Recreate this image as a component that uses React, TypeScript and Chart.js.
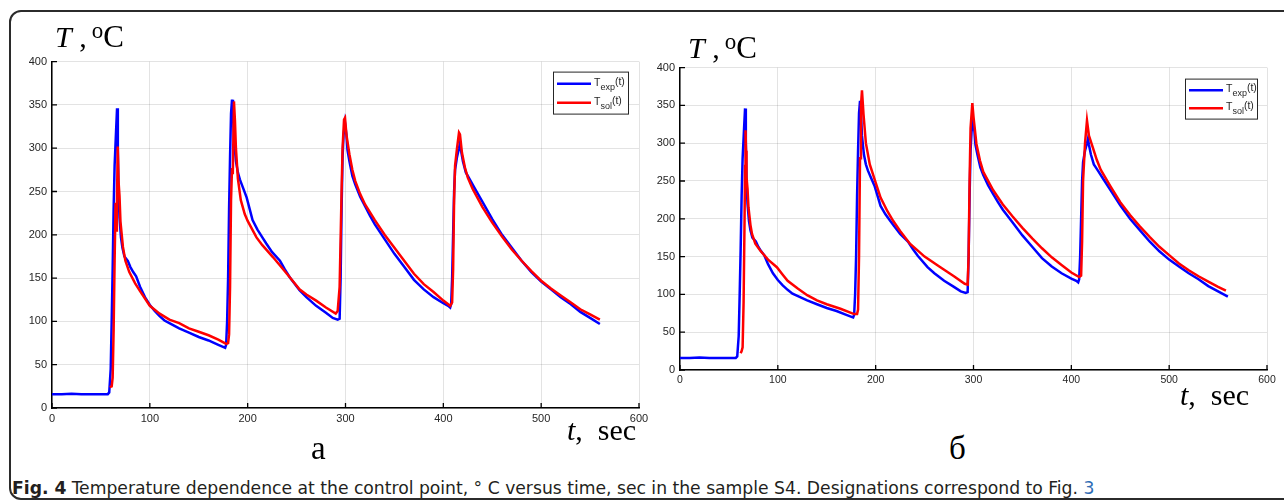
import React, { useEffect, useLayoutEffect, useRef } from "react";
import { Chart, registerables } from "chart.js";

Chart.register(...registerables);

// ---------- data ----------
const xTicks = [0, 100, 200, 300, 400, 500, 600];
const yTicks = [0, 50, 100, 150, 200, 250, 300, 350, 400];

// experimental temperature (same in both panels)
const tExp = [0, 10, 20, 30, 40, 50, 57, 58.5, 60, 61, 62, 63, 64, 65.5, 66.5, 67.3, 68, 69, 70.5, 72, 74, 77.5, 80, 83, 86, 90, 95, 100, 105, 110, 115, 120, 130, 140, 150, 160, 170, 176, 177, 178, 179, 180, 181, 182, 183, 184, 185, 186, 188, 190, 192, 195, 199, 202, 205, 210, 215, 219, 225, 233, 238, 243, 253, 260, 270, 280, 287, 292, 294, 295, 296, 297, 298, 299.5, 301, 302, 304, 307, 310, 315, 320, 325, 330, 340, 350, 360, 370, 380, 390, 400, 405, 407, 408, 409, 410, 411, 412, 414, 416, 417, 418, 420, 423, 425, 428, 432, 440, 450, 460, 470, 480, 490, 500, 510, 520, 530, 540, 550, 560];
const TExp = [16, 16, 16.5, 16, 16, 16, 16, 18, 45, 100, 160, 230, 280, 320, 346, 300, 250, 220, 197, 185, 175, 170, 163, 157, 152, 140, 128, 119, 112, 106, 101, 98, 92, 87, 82, 78, 73, 70, 69.5, 73, 100, 150, 230, 290, 340, 356, 340, 310, 285, 272, 264, 255, 243, 230, 217, 206, 197, 190, 180, 170, 160, 151, 136, 128, 118, 110, 104, 102, 103, 150, 230, 290, 315, 329, 315, 298, 285, 268, 258, 244, 233, 222, 212, 195, 178, 163, 148, 137, 128, 121, 118, 116, 120, 150, 200, 250, 275, 290, 300, 306, 298, 285, 272, 268, 262, 254, 238, 218, 200, 185, 170, 157, 146, 137, 128, 120, 111, 104, 97];

// solution, panel a
const tSolA = [59, 61, 62, 63, 64, 65, 65.8, 66.3, 67.2, 68, 69, 70, 72.5, 75, 79, 85, 90, 100, 110, 120, 130, 140, 150, 160, 170, 178, 180, 181, 182, 183, 184, 184.8, 186, 187, 188, 190, 193, 197, 200, 209, 215, 226, 235, 243, 253, 260, 270, 280, 290, 292, 294, 296, 297, 298.5, 299.5, 301, 304, 307, 310, 315, 320, 330, 340, 350, 360, 370, 380, 390, 400, 407, 409, 410, 411, 412, 414, 416, 417, 419, 422, 425, 430, 440, 450, 460, 470, 480, 490, 500, 510, 520, 530, 540, 550, 560];
const TSolA = [24, 25, 35, 90, 170, 237, 205, 230, 302, 262, 245, 215, 186, 170, 157, 144, 135, 118, 109, 102, 98, 92, 88, 84, 79, 74, 75, 85, 140, 240, 277, 270, 354, 332, 300, 265, 240, 224, 216, 197, 188, 174, 162, 151, 137, 131, 124, 116, 109, 112, 140, 250, 300, 333, 335, 315, 293, 275, 262, 247, 235, 217, 200, 185, 170, 155, 143, 134, 124, 118, 122, 160, 240, 280, 300, 318, 316, 295, 278, 266, 253, 232, 214, 198, 183, 170, 158, 147, 138, 130, 122, 114, 108, 102];

// solution, panel б
const tSolB = [62, 63, 64, 65, 66, 66.5, 67, 67.5, 68, 69, 70, 72, 73.6, 77, 82, 90, 99, 105, 110, 120, 130, 140, 150, 164, 178, 181, 182, 183, 184, 185, 186, 187, 187.6, 190, 194, 200, 205, 212, 218, 225, 235, 250, 265, 280, 291, 294, 295, 296, 297, 298.8, 300, 303, 306.6, 310, 320, 330, 340, 350, 360, 370, 380, 390, 400, 408, 410, 411, 412, 414, 416, 418, 422, 426, 430, 440, 450, 460, 470, 480, 490, 500, 510, 520, 530, 540, 550, 558];
const TSolB = [22, 25, 30, 90, 200, 270, 317, 290, 255, 240, 215, 192, 180, 167, 158, 146, 136, 126, 118, 108, 99, 92, 87, 81, 74, 74, 80, 150, 280, 350, 370, 350, 338, 300, 272, 248, 228, 210, 197, 184, 167, 150, 137, 124, 114, 113, 150, 250, 320, 353, 335, 299, 277, 262, 238, 219, 203, 188, 174, 161, 149, 139, 129, 123, 125, 170, 250, 300, 330, 310, 294, 278, 265, 243, 222, 205, 190, 176, 163, 152, 141, 132, 124, 117, 110, 105];

const pts = (xs: number[], ys: number[]) => xs.map((x, i) => ({ x, y: ys[i] }));

const TICK_COLOR = "#262626";
const GRID_COLOR = "rgba(0,0,0,0.11)";

type ChartProps = {
  left: number;
  top: number;
  width: number;
  height: number;
  padTop: number;
  padRight: number;
  yWidth: number;
  solT: number[];
  solV: number[];
  legend: { dx: number; dy: number; w: number; h: number };
  xFont: number;
};

function TempChart(p: ChartProps) {
  const ref = useRef<HTMLCanvasElement>(null);
  useEffect(() => {
    const canvas = ref.current!;
    const innerTicks = {
      id: "innerTicks",
      beforeDatasetsDraw(chart: any) {
        const { ctx, chartArea, scales } = chart;
        ctx.save();
        ctx.strokeStyle = "#000";
        ctx.lineWidth = 1.3;
        ctx.beginPath();
        xTicks.forEach((v) => {
          const px = scales.x.getPixelForValue(v);
          ctx.moveTo(px, chartArea.bottom);
          ctx.lineTo(px, chartArea.bottom - 5);
        });
        yTicks.forEach((v) => {
          const py = scales.y.getPixelForValue(v);
          ctx.moveTo(chartArea.left, py);
          ctx.lineTo(chartArea.left + 5, py);
        });
        ctx.stroke();
        ctx.restore();
      },
    };
    const legendBox = {
      id: "legendBox",
      afterDatasetsDraw(chart: any) {
        const { ctx, chartArea } = chart;
        const { dx, dy, w, h } = p.legend;
        const bx = chartArea.right - dx - w;
        const by = chartArea.top + dy;
        ctx.save();
        ctx.fillStyle = "#fff";
        ctx.fillRect(bx, by, w, h);
        ctx.strokeStyle = "#262626";
        ctx.lineWidth = 1;
        ctx.strokeRect(bx + 0.5, by + 0.5, w, h);
        const rows = [
          { c: "#0000ff", sub: "exp", y: by + h * 0.29 },
          { c: "#ff0000", sub: "sol", y: by + h * 0.74 },
        ];
        rows.forEach((r) => {
          ctx.strokeStyle = r.c;
          ctx.lineWidth = 2.5;
          ctx.beginPath();
          ctx.moveTo(bx + 4, r.y);
          ctx.lineTo(bx + 38, r.y);
          ctx.stroke();
          ctx.fillStyle = TICK_COLOR;
          ctx.textBaseline = "alphabetic";
          ctx.font = "10.5px 'Liberation Sans', Arial, sans-serif";
          let x = bx + 41;
          ctx.fillText("T", x, r.y + 2);
          x += ctx.measureText("T").width;
          ctx.font = "9px 'Liberation Sans', Arial, sans-serif";
          ctx.fillText(r.sub, x, r.y + 6);
          x += ctx.measureText(r.sub).width;
          ctx.font = "10.5px 'Liberation Sans', Arial, sans-serif";
          ctx.fillText("(t)", x, r.y + 1);
        });
        ctx.restore();
      },
    };
    const chart = new Chart(canvas, {
      type: "line",
      data: {
        datasets: [
          {
            label: "Texp(t)",
            data: pts(tExp, TExp),
            borderColor: "#0000ff",
            backgroundColor: "#0000ff",
            borderWidth: 2.5,
            pointRadius: 0,
            tension: 0,
            order: 2,
          },
          {
            label: "Tsol(t)",
            data: pts(p.solT, p.solV),
            borderColor: "#ff0000",
            backgroundColor: "#ff0000",
            borderWidth: 2.5,
            pointRadius: 0,
            tension: 0,
            order: 1,
          },
        ],
      },
      options: {
        animation: false,
        responsive: false,
        maintainAspectRatio: false,
        layout: { padding: { top: p.padTop, right: p.padRight, left: 0, bottom: 0 } },
        plugins: { legend: { display: false }, tooltip: { enabled: false } },
        scales: {
          x: {
            type: "linear",
            min: 0,
            max: 600,
            afterBuildTicks: (s: any) => {
              s.ticks = xTicks.map((v) => ({ value: v }));
            },
            afterFit: (s: any) => {
              s.height = 24;
            },
            ticks: {
              color: TICK_COLOR,
              font: { family: "'Liberation Sans', Arial, sans-serif", size: p.xFont },
              padding: 4,
              maxRotation: 0,
              autoSkip: false,
              callback: (v: any) => String(v),
            },
            grid: { color: GRID_COLOR, drawTicks: false, lineWidth: 1 },
            border: { display: true, color: "#000", width: 1.5 },
          },
          y: {
            type: "linear",
            min: 0,
            max: 400,
            afterBuildTicks: (s: any) => {
              s.ticks = yTicks.map((v) => ({ value: v }));
            },
            afterFit: (s: any) => {
              s.width = p.yWidth;
            },
            ticks: {
              color: TICK_COLOR,
              font: { family: "'Liberation Sans', Arial, sans-serif", size: 11 },
              padding: 5,
              autoSkip: false,
              callback: (v: any) => String(v),
            },
            grid: { color: GRID_COLOR, drawTicks: false, lineWidth: 1 },
            border: { display: true, color: "#000", width: 1.5 },
          },
        },
      },
      plugins: [innerTicks, legendBox],
    } as any);
    return () => chart.destroy();
  }, []);
  return (
    <canvas
      ref={ref}
      width={p.width}
      height={p.height}
      style={{ position: "absolute", left: p.left, top: p.top, width: p.width, height: p.height }}
    />
  );
}

const serif = "'Liberation Serif', 'Times New Roman', serif";

function TTitle({ left, top }: { left: number; top: number }) {
  return (
    <div style={{ position: "absolute", left, top, fontFamily: serif, fontSize: 30, lineHeight: "30px", whiteSpace: "pre", color: "#000" }}>
      <span style={{ fontStyle: "italic" }}>T</span>
      <span> ,</span>
      <span style={{ fontSize: 23, position: "relative", top: -9, marginLeft: 5 }}>o</span>
      <span style={{ fontSize: 31 }}>C</span>
    </div>
  );
}

function tTitle(left: number, top: number) {
  return (
    <div style={{ position: "absolute", left, top, fontFamily: serif, fontSize: 30, lineHeight: "30px", whiteSpace: "pre", color: "#000" }}>
      <span style={{ fontStyle: "italic" }}>t</span>
      <span>,  sec</span>
    </div>
  );
}

function Caption() {
  const ref = useRef<HTMLDivElement>(null);
  useLayoutEffect(() => {
    const el = ref.current!;
    const w = el.scrollWidth;
    if (w > 0) el.style.transform = `scaleX(${1082 / w})`;
  }, []);
  return (
    <div
      ref={ref}
      style={{
        position: "absolute",
        left: 12,
        top: 479,
        fontFamily: "'Liberation Sans Narrow', 'DejaVu Sans Condensed', 'Open Sans', sans-serif",
        fontSize: 17,
        lineHeight: "19px",
        whiteSpace: "pre",
        color: "#231f20",
        transformOrigin: "0 0",
      }}
    >
      <b>Fig. 4</b> Temperature dependence at the control point, ° C versus time, sec in the sample S4. Designations correspond to Fig.{" "}
      <span style={{ color: "#2f6db5" }}>3</span>
    </div>
  );
}

export default function App() {
  return (
    <div style={{ position: "fixed", left: 0, top: 0, width: 1284, height: 504, background: "#fff", overflow: "hidden" }}>
      <div
        style={{
          position: "absolute",
          left: 9,
          top: 10,
          width: 1290,
          height: 490,
          border: "2px solid #2b2b2b",
          borderRadius: 12,
          boxSizing: "border-box",
        }}
      />
      <TempChart
        left={0}
        top={50}
        width={660}
        height={382}
        padTop={10}
        padRight={21}
        yWidth={52}
        solT={tSolA}
        solV={TSolA}
        legend={{ dx: 11, dy: 10, w: 75, h: 42 }}
        xFont={11}
      />
      <TempChart
        left={628}
        top={56}
        width={656}
        height={338}
        padTop={10}
        padRight={17}
        yWidth={52}
        solT={tSolB}
        solV={TSolB}
        legend={{ dx: 10, dy: 11, w: 72, h: 40 }}
        xFont={10.5}
      />
      <TTitle left={55} top={22} />
      <TTitle left={688} top={33} />
      {tTitle(567, 415)}
      {tTitle(1180, 380)}
      <div style={{ position: "absolute", left: 311, top: 432, fontFamily: serif, fontSize: 33, lineHeight: "33px" }}>a</div>
      <div style={{ position: "absolute", left: 949, top: 432, fontFamily: serif, fontSize: 33, lineHeight: "33px" }}>б</div>
      <Caption />
    </div>
  );
}
